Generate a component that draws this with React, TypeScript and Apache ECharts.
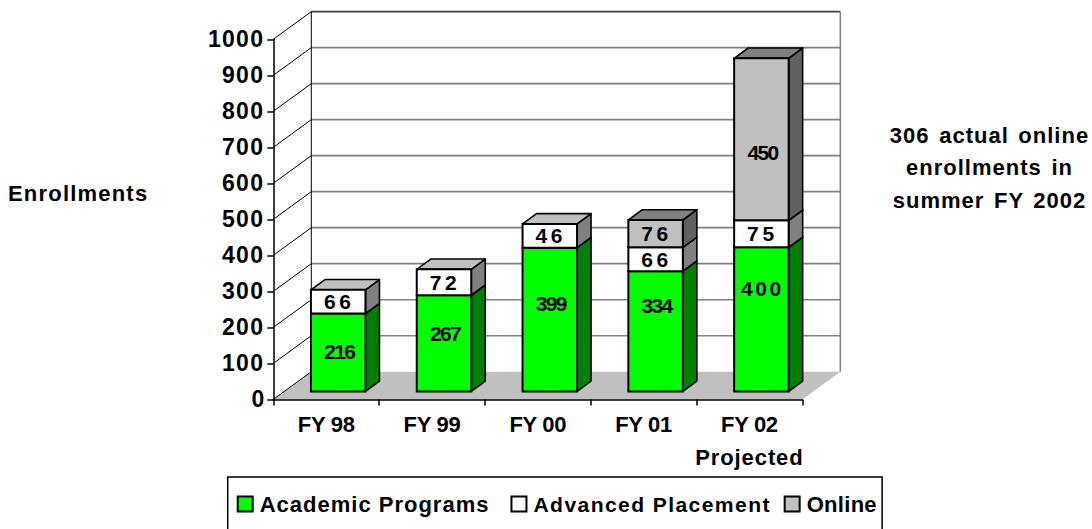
import React, { useEffect, useRef } from "react";
import * as echarts from "echarts";

const categories = ["FY 98", "FY 99", "FY 00", "FY 01", "FY 02\nProjected"];
const academic = [216, 267, 399, 334, 400];
const advanced = [66, 72, 66, 66, 75];
const online = [0, 0, 0, 76, 450];
const academicLabels = ["216", "267", "399", "334", "400"];
const advancedLabels = ["66", "72", "46", "66", "75"];
const onlineLabels = ["", "", "", "76", "450"];
const yTicks = [0, 100, 200, 300, 400, 500, 600, 700, 800, 900, 1000];
const noteLines = ["306 actual online", "enrollments in", "summer FY 2002"];

const FONT = '"Liberation Sans", Arial, sans-serif';
const WALL = { dx: 38, dy: -27.7 };
const BAR = { sx: 12, sy: -8, dx: 14, dy: -10.3, width: 54.5 };
const academicLabelShift = [-1, -10, -16, -26, -31];
const onlineLabelShift = [0, 0, 0, 0, 13];
const spacing: Record<string, number> = {
  "216": -1.7, "267": -1.7, "399": -1.7, "334": -1.7, "450": -1.7, "400": 2.6,
  "66": 3.6, "72": 3.6, "46": 3.6, "76": 3.6, "75": 3.6,
  "FY 98": -0.3, "FY 99": -0.3, "FY 00": -0.3, "FY 01": -0.3, "FY 02": -0.3,
  "100": 1.3, "200": 1.3, "300": 1.3, "500": 1.3, "600": 1.3, "700": 1.3, "800": 1.3, "900": 1.3, "1000": 1.3, "0": 0,
  "Advanced Placement": 1.4, "Academic Programs": 1, "Online": 0.3,
  "Projected": 0.9, "Enrollments": 1.2,
  "306 actual online": 1, "enrollments in": 1, "summer FY 2002": 1,
};

function segmentSeries(name: string, starts: number[], values: number[], labels: string[], shift: number[], front: string, side: string, top: string) {
  return {
    name,
    type: "custom",
    coordinateSystem: "cartesian2d",
    clip: false,
    z: 5,
    itemStyle: { color: front, borderColor: "#000", borderWidth: 2 },
    data: values.map((v, i) => [i, starts[i], starts[i] + v]),
    renderItem: (_: any, api: any) => {
      const i = api.value(0);
      const lo = api.coord([i, api.value(1)]);
      const hi = api.coord([i, api.value(2)]);
      if (api.value(2) === api.value(1)) return { type: "group", children: [] };
      const x0 = lo[0] + BAR.sx - BAR.width / 2;
      const x1 = x0 + BAR.width;
      const yb = lo[1] + BAR.sy;
      const yt = hi[1] + BAR.sy;
      const line = { stroke: "#000", lineWidth: 1.6, lineJoin: "round" };
      return {
        type: "group",
        children: [
          { type: "polygon", shape: { points: [[x1, yb], [x1 + BAR.dx, yb + BAR.dy], [x1 + BAR.dx, yt + BAR.dy], [x1, yt]] }, style: { fill: side, ...line } },
          { type: "polygon", shape: { points: [[x0, yt], [x1, yt], [x1 + BAR.dx, yt + BAR.dy], [x0 + BAR.dx, yt + BAR.dy]] }, style: { fill: top, ...line } },
          { type: "rect", shape: { x: x0, y: yt, width: BAR.width, height: yb - yt }, style: { fill: front, stroke: "#000", lineWidth: 2 } },
          {
            type: "text",
            style: {
              text: labels[i], x: (x0 + x1) / 2 + 1, y: (yb + yt) / 2 + shift[i],
              align: "center", verticalAlign: "middle", fill: "#000",
              font: `bold 21px ${FONT}`,
            },
          },
        ],
      };
    },
  };
}

export default function App() {
  const ref = useRef<HTMLDivElement>(null);
  useEffect(() => {
    document.body.style.margin = "0";
    const chart = echarts.init(ref.current!, null, { renderer: "svg" });
    const advStart = academic;
    const onlineStart = academic.map((a, i) => a + advanced[i]);
    chart.setOption({
      animation: false,
      backgroundColor: "#fff",
      grid: { left: 273.3, top: 39.3, width: 529, height: 360.1, containLabel: false },
      xAxis: {
        type: "category",
        data: categories,
        z: 4,
        axisLine: { lineStyle: { color: "#000", width: 1.5 } },
        axisTick: { show: true, length: 6, lineStyle: { color: "#000", width: 1.5 } },
        axisLabel: { interval: 0, color: "#000", fontFamily: FONT, fontWeight: "bold", fontSize: 22, lineHeight: 33, margin: 9 },
      },
      yAxis: {
        type: "value",
        min: 0,
        max: 1000,
        interval: 100,
        z: 4,
        splitLine: { show: false },
        axisLine: { show: true, lineStyle: { color: "#000", width: 1.5 } },
        axisTick: { show: true, length: 6, lineStyle: { color: "#000", width: 1.5 } },
        axisLabel: { formatter: (v: number) => String(v), color: "#000", fontFamily: FONT, fontWeight: "bold", fontSize: 23, margin: 9 },
      },
      legend: {
        left: 227.7,
        top: 477,
        padding: [16, 7, 40, 9],
        backgroundColor: "#fff",
        borderColor: "#000",
        borderWidth: 1.5,
        borderRadius: 0,
        itemWidth: 15,
        itemHeight: 15,
        itemGap: 38,
        icon: "rect",
        selectedMode: false,
        textStyle: { color: "#000", fontFamily: FONT, fontWeight: "bold", fontSize: 22, padding: [0, 0, 0, 2] },
        data: [
          { name: "Academic Programs", itemStyle: { color: "#00FF00", borderColor: "#000", borderWidth: 2 } },
          { name: "Advanced Placement", itemStyle: { color: "#FFFFFF", borderColor: "#000", borderWidth: 2 }, textStyle: { fontSize: 21.1 } },
          { name: "Online", itemStyle: { color: "#C0C0C0", borderColor: "#000", borderWidth: 2 } },
        ],
      },
      graphic: [
        { type: "text", left: 8, top: 182, style: { text: "Enrollments", fill: "#000", font: `bold 22px ${FONT}` } },
        ...noteLines.map((t, i) => ({
          type: "text", x: 989.5, y: 135 + i * 32.5,
          style: { text: t, fill: "#000", align: "center", verticalAlign: "middle", font: `bold 22px ${FONT}` },
        })),
      ],
      series: [
        {
          name: "walls",
          type: "custom",
          coordinateSystem: "cartesian2d",
          clip: false,
          z: 1,
          data: [[0, 0]],
          renderItem: (params: any, api: any) => {
            const cs = params.coordSys;
            const xl = cs.x, xr = cs.x + cs.width;
            const y0 = api.coord([0, 0])[1];
            const yTop = api.coord([0, 1000])[1];
            const children: any[] = [
              { type: "polygon", shape: { points: [[xl, y0], [xr, y0], [xr + WALL.dx, y0 + WALL.dy], [xl + WALL.dx, y0 + WALL.dy]] }, style: { fill: "#C0C0C0" } },
            ];
            yTicks.forEach((v) => {
              const y = api.coord([0, v])[1];
              if (v > 0) children.push({ type: "line", shape: { x1: xl + WALL.dx, y1: y + WALL.dy, x2: xr + WALL.dx, y2: y + WALL.dy }, style: { stroke: v === 1000 ? "#404040" : "#808080", lineWidth: 1.6 } });
              children.push({ type: "line", shape: { x1: xl, y1: y, x2: xl + WALL.dx, y2: y + WALL.dy }, style: { stroke: "#000", lineWidth: 1 } });
            });
            children.push({ type: "line", shape: { x1: xl + WALL.dx, y1: yTop + WALL.dy, x2: xl + WALL.dx, y2: y0 + WALL.dy }, style: { stroke: "#000", lineWidth: 1 } });
            children.push({ type: "line", shape: { x1: xr + WALL.dx, y1: yTop + WALL.dy, x2: xr + WALL.dx, y2: y0 + WALL.dy }, style: { stroke: "#808080", lineWidth: 1.5 } });
            return { type: "group", children };
          },
        },
        segmentSeries("Academic Programs", academic.map(() => 0), academic, academicLabels, academicLabelShift, "#00FF00", "#008000", "#008000"),
        segmentSeries("Advanced Placement", advStart, advanced, advancedLabels, [0, 0, 0, 0, 0], "#FFFFFF", "#808080", "#C0C0C0"),
        segmentSeries("Online", onlineStart, online, onlineLabels, onlineLabelShift, "#C0C0C0", "#606060", "#808080"),
      ],
    });
    ref.current!.querySelectorAll("text").forEach((el) => {
      const t = (el.textContent || "").trim();
      const isAxis400 = t === "400" && (el.getAttribute("style") || "").includes("23px");
      const s = isAxis400 ? 1.3 : spacing[t] ?? 0.95;
      el.style.letterSpacing = `${s}px`;
      if (noteLines.includes(t)) el.style.wordSpacing = "2.5px";
    });
    return () => chart.dispose();
  }, []);
  return <div ref={ref} style={{ position: "absolute", left: 0, top: 0, width: 1092, height: 529, overflow: "hidden" }} />;
}
